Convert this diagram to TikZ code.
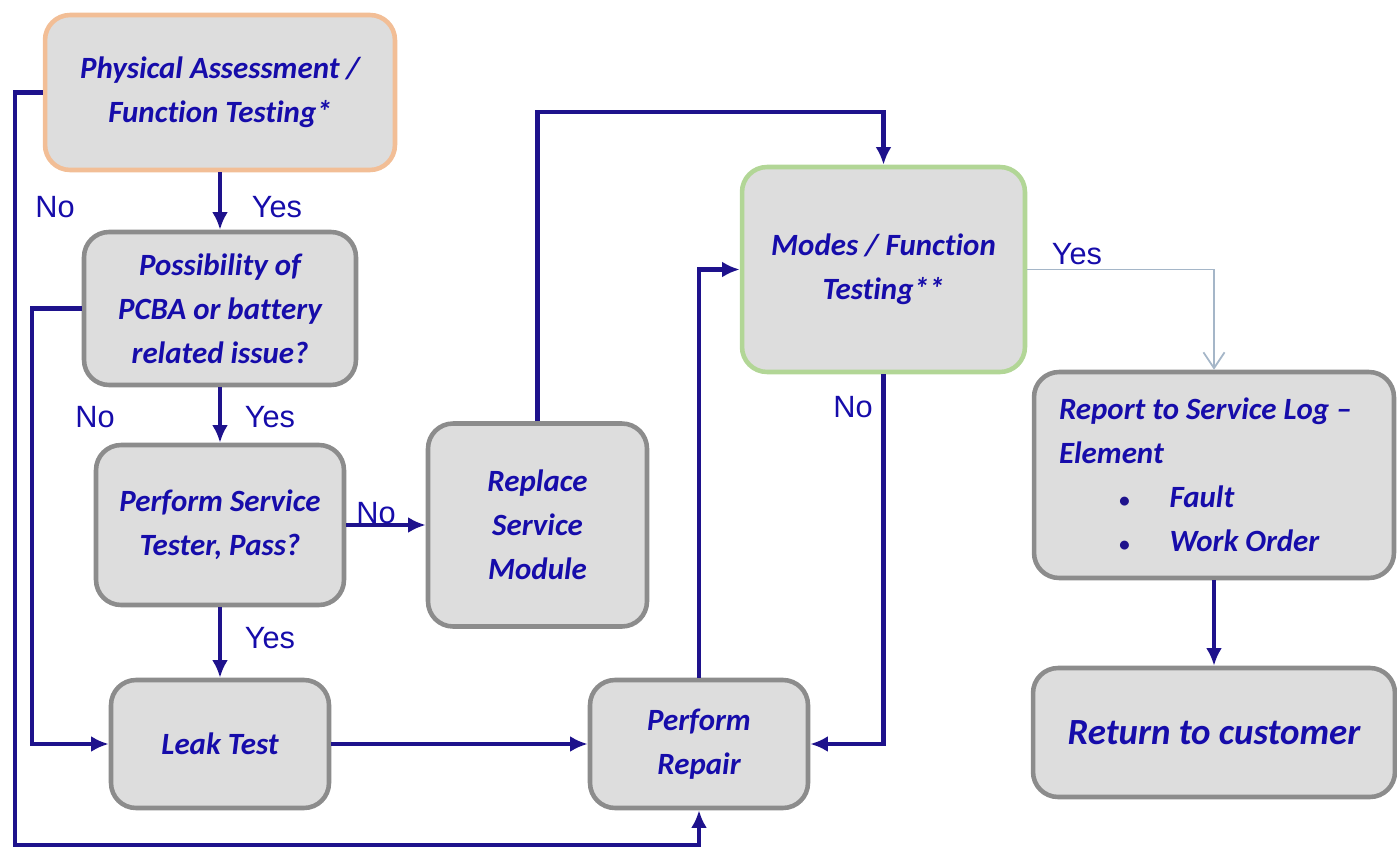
\documentclass[tikz,border=0pt]{standalone}
\usepackage{fontspec}
\setmainfont{Carlito}[Ligatures=NoCommon]
\newfontfamily\lblfont{Liberation Sans}
\usepackage{tikz}
\usetikzlibrary{positioning,arrows.meta}
\definecolor{txtblue}{RGB}{22,12,170}
\definecolor{linenavy}{RGB}{30,18,140}
\definecolor{boxfill}{RGB}{221,221,221}
\definecolor{boxgray}{RGB}{140,140,140}
\definecolor{boxorange}{RGB}{242,190,150}
\definecolor{boxgreen}{RGB}{178,214,150}
\definecolor{thinline}{RGB}{165,182,200}
\tikzset{
mybox/.style={
  draw=boxgray,
  fill=boxfill,
  line width=2.6pt,
  rounded corners=0.5cm,
  align=center,
  text=txtblue,
  font=\fontsize{17.6}{25}\selectfont\bfseries\itshape
  },
myboxs/.style={
  mybox,
  draw=#1
  },
myarrow/.style={
  draw=linenavy,
  line width=2.6pt,
  -{Latex[length=10pt,width=9pt]}
  },
mylbl/.style={
  text=txtblue,
  font=\lblfont\fontsize{17.5}{20}\selectfont,
  inner sep=0pt
  }
}
\newcommand{\mybullet}{{\color{linenavy}\fontsize{12}{12}\selectfont\textbullet}}
\begin{document}
\begin{tikzpicture}[x=0.02cm,y=-0.02cm]
            \useasboundingbox (0,0) rectangle (1397,848);
            % boxes
            \node[myboxs=boxorange,minimum width=7cm,minimum height=3.1cm] (phys) at (220,92.5)
                {Physical Assessment /\\Function Testing*};
            \node[mybox,minimum width=5.44cm,minimum height=3.06cm] (poss) at (220,308.5)
                {Possibility of\\PCBA or battery\\related issue?};
            \node[mybox,minimum width=4.96cm,minimum height=3.2cm] (tester) at (220,525)
                {Perform Service\\Tester, Pass?};
            \node[mybox,minimum width=4.38cm,minimum height=4.06cm] (replace) at (537.5,525)
                {Replace\\Service\\Module};
            \node[mybox,minimum width=4.36cm,minimum height=2.56cm] (leak) at (220,744)
                {Leak Test};
            \node[mybox,minimum width=4.36cm,minimum height=2.56cm] (repair) at (699,744)
                {Perform\\Repair};
            \node[myboxs=boxgreen,minimum width=5.66cm,minimum height=4.1cm] (modes) at (883.5,269.5)
                {Modes / Function\\Testing**};
            \node[mybox,align=flush left,text width=6.2cm,inner xsep=0.5cm,minimum height=4.12cm] (report) at (1214,475)
                {Report to Service Log --\\Element\\
                 \hspace*{1.2cm}\mybullet\hspace{0.8cm}Fault\\
                 \hspace*{1.2cm}\mybullet\hspace{0.8cm}Work Order};
            \node[mybox,minimum width=7.24cm,minimum height=2.58cm,font=\fontsize{21}{26}\selectfont\bfseries\itshape] (ret) at (1214,732.5)
                {Return to customer};
            % connectors
            \draw[myarrow] (phys.south) -- (poss.north);
            \draw[myarrow] (phys.west) -- (15,92.5) -- (15,845) -| (repair.south);
            \draw[myarrow] (poss.south) -- (tester.north);
            \draw[myarrow] (poss.west) -- (32,308.5) |- (leak.west);
            \draw[myarrow] (tester.east) -- (replace.west);
            \draw[myarrow] (tester.south) -- (leak.north);
            \draw[myarrow] (leak.east) -- (repair.west);
            \draw[myarrow] (replace.north) |- (700,112) -| (modes.north);
            \draw[myarrow] (repair.north) |- (modes.west);
            \draw[myarrow] (modes.south) |- (repair.east);
            \draw[draw=thinline,line width=1pt,-{Straight Barb[length=9pt,width=12pt]}] (modes.east) -| (report.north);
            \draw[myarrow] (report.south) -- (ret.north);
            % labels
            \node[mylbl] (y1) at (277,207) {Yes};
            \node[mylbl] (n1) at (55,207) {No};
            \node[mylbl] (y2) at (270,417) {Yes};
            \node[mylbl] (n2) at (95,417) {No};
            \node[mylbl] (n3) at (376,513) {No};
            \node[mylbl] (y3) at (270,638) {Yes};
            \node[mylbl] (n4) at (853,407) {No};
            \node[mylbl] (y4) at (1077,254) {Yes};
        \end{tikzpicture}
\end{document}
